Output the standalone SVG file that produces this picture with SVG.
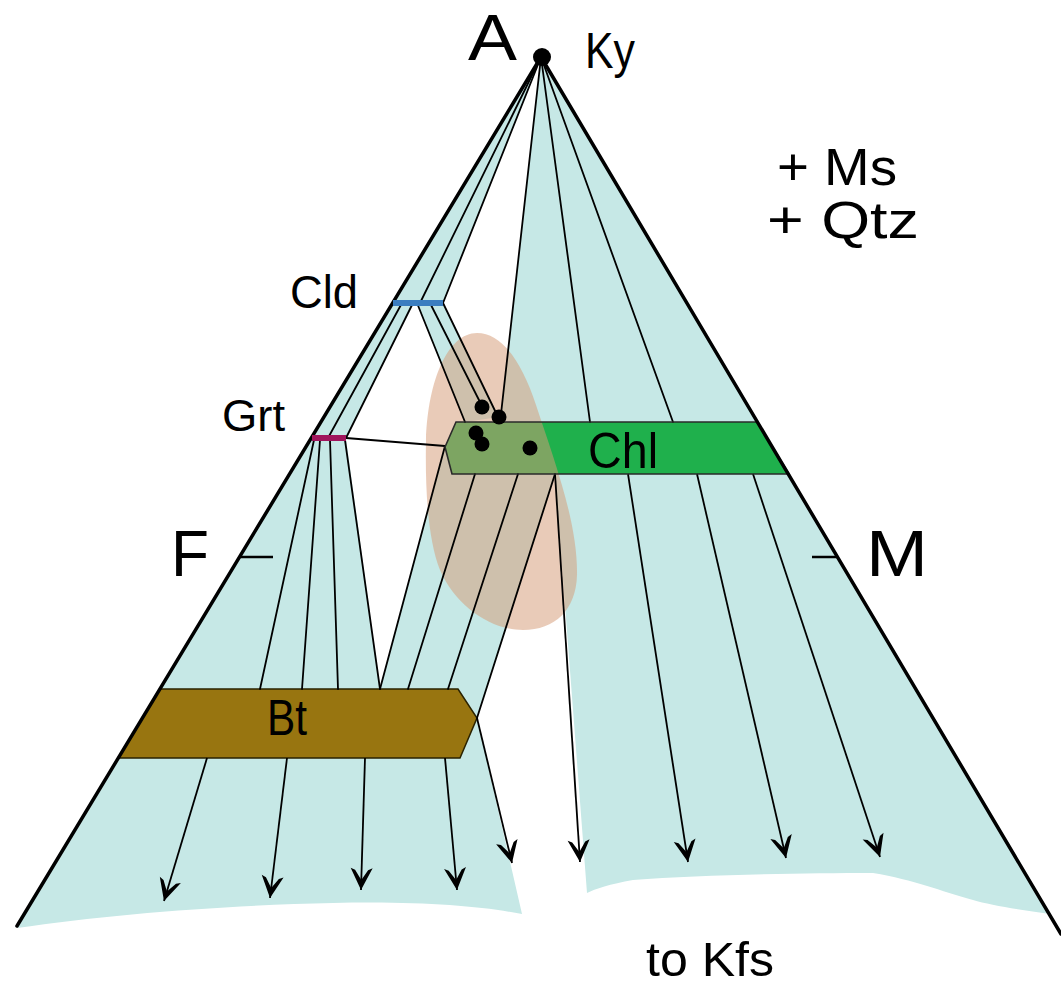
<svg xmlns="http://www.w3.org/2000/svg" width="1061" height="987" viewBox="0 0 1061 987">
<defs>
<style>
.fld{fill:#c6e8e6;stroke:none}
.tl{stroke:#000;stroke-width:1.8;fill:none;stroke-linecap:round}
.ar{stroke:#000;stroke-width:1.8;fill:none;marker-end:url(#ah)}
.edge{stroke:#000;stroke-width:3.5;fill:none;stroke-linecap:round}
.lbl{font-family:"Liberation Sans",Arial,sans-serif;fill:#000}
.dot{fill:#000}
</style>
<marker id="ah" viewBox="-24 -13 26 26" refX="0" refY="0" markerWidth="26" markerHeight="26" orient="auto" markerUnits="userSpaceOnUse">
<path d="M0,0 L-22,-11 L-20,-6.5 L-10,0 L-20,6.5 L-22,11 Z" fill="#000"/>
</marker>
</defs>
<rect width="1061" height="987" fill="#fff"/>

<g id="fields">
<polygon class="fld" points="541,57 393,303 443,303"/>
<polygon class="fld" points="393,303 413,303 346,438 312,438"/>
<polygon class="fld" points="312,438 346,438 380,689 160,689"/>
<polygon class="fld" points="417,303 443,303 499,417 465,422"/>
<polygon class="fld" points="541,57 501,414 500,422 757,422"/>
<polygon class="fld" points="445,446 452,474 555,474 477,718 458,689 380,689"/>
<path class="fld" d="M120,758 L460,758 L477,718 L522,914 C480,906 420,901 333,903 C230,905 110,914 17,928 Z"/>
<path class="fld" d="M555,474 L789,474 L1050,914 C1020,910 990,905 973,900 C940,891 915,880 873,873 C800,873 700,875 633,880 C610,884 595,889 587,893 Z"/>
</g>

<g id="chl">
<polygon points="456,422 757,422 789,474 452,474 445,447" fill="#1fb04c"/>
</g>

<g id="blob">
<path d="M477,333 C502,333 522,362 536,405 C556,465 578,525 577,575 C576,610 555,630 523,630 C490,630 455,605 440,570 C428,540 425,490 426,440 C428,380 448,333 477,333 Z" fill="#d59b76" fill-opacity="0.52"/>
</g>

<g id="bt">
<polygon points="160,689 458,689 477,718 460,758 118,758" fill="#987510" stroke="#2a2200" stroke-width="1.5"/>
<text class="lbl" x="267" y="735" font-size="50" textLength="40" lengthAdjust="spacingAndGlyphs">Bt</text>
</g>

<g id="connectors">
<line class="tl" x1="541" y1="57" x2="420" y2="303"/>
<line class="tl" x1="541" y1="57" x2="443" y2="303"/>
<line class="tl" x1="541" y1="57" x2="501" y2="414"/>
<line class="tl" x1="541" y1="57" x2="590" y2="422"/>
<line class="tl" x1="541" y1="57" x2="673" y2="422"/>
<line class="tl" x1="402" y1="303" x2="328" y2="438"/>
<line class="tl" x1="413" y1="303" x2="346" y2="438"/>
<line class="tl" x1="417" y1="303" x2="465" y2="422"/>
<line class="tl" x1="430" y1="303" x2="482" y2="406"/>
<line class="tl" x1="443" y1="303" x2="498" y2="417"/>
<line class="tl" x1="314" y1="440" x2="260" y2="689"/>
<line class="tl" x1="320" y1="440" x2="302" y2="689"/>
<line class="tl" x1="330" y1="440" x2="338" y2="689"/>
<line class="tl" x1="345" y1="440" x2="380" y2="689"/>
<line class="tl" x1="346" y1="438" x2="445" y2="446"/>
<line class="tl" x1="445" y1="446" x2="380" y2="689"/>
<line class="tl" x1="475" y1="474" x2="408" y2="689"/>
<line class="tl" x1="518" y1="474" x2="448" y2="689"/>
<line class="tl" x1="555" y1="474" x2="477" y2="718"/>
<line class="ar" x1="555" y1="474" x2="580" y2="862"/>
<line class="ar" x1="628" y1="474" x2="688" y2="862"/>
<line class="ar" x1="697" y1="474" x2="786" y2="858"/>
<line class="ar" x1="753" y1="474" x2="880" y2="857"/>
<line class="ar" x1="207" y1="758" x2="164" y2="901"/>
<line class="ar" x1="287" y1="758" x2="270" y2="898"/>
<line class="ar" x1="365" y1="758" x2="361" y2="890"/>
<line class="ar" x1="445" y1="758" x2="457" y2="890"/>
<line class="ar" x1="477" y1="718" x2="512" y2="863"/>
</g>

<g id="chl-outline">
<polygon points="456,422 757,422 789,474 452,474 445,447" fill="none" stroke="#2a2a2a" stroke-width="1.6"/>
<text class="lbl" x="588" y="468" font-size="50" textLength="70" lengthAdjust="spacingAndGlyphs">Chl</text>
</g>

<g id="triangle">
<line class="edge" x1="541" y1="57" x2="17" y2="926"/>
<line class="edge" x1="541" y1="57" x2="1061" y2="934"/>
<line stroke="#000" stroke-width="2.5" x1="239" y1="557" x2="273" y2="557"/>
<line stroke="#000" stroke-width="2.5" x1="812" y1="557" x2="837" y2="557"/>
</g>

<g id="cld">
<line x1="393" y1="303" x2="443" y2="303" stroke="#3b7dc0" stroke-width="6"/>
<text class="lbl" x="290" y="308" font-size="46" textLength="68" lengthAdjust="spacingAndGlyphs">Cld</text>
</g>

<g id="grt">
<line x1="312" y1="438" x2="346" y2="438" stroke="#a0155c" stroke-width="6"/>
<text class="lbl" x="222" y="431" font-size="44" textLength="63" lengthAdjust="spacingAndGlyphs">Grt</text>
</g>

<g id="samples">
<circle class="dot" cx="482" cy="407" r="7.5"/>
<circle class="dot" cx="499" cy="417" r="7.5"/>
<circle class="dot" cx="476" cy="433" r="7.5"/>
<circle class="dot" cx="482" cy="444" r="7.5"/>
<circle class="dot" cx="530" cy="448" r="7.5"/>
</g>

<g id="ky">
<circle class="dot" cx="542" cy="57" r="9"/>
<text class="lbl" x="585" y="68" font-size="50" textLength="50" lengthAdjust="spacingAndGlyphs">Ky</text>
</g>

<g id="labels">
<text class="lbl" x="468" y="60" font-size="64" textLength="49" lengthAdjust="spacingAndGlyphs">A</text>
<text class="lbl" x="171" y="576" font-size="64" textLength="38" lengthAdjust="spacingAndGlyphs">F</text>
<text class="lbl" x="866" y="576" font-size="64" textLength="62" lengthAdjust="spacingAndGlyphs">M</text>
<text class="lbl" x="777" y="185" font-size="52" textLength="120" lengthAdjust="spacingAndGlyphs">+ Ms</text>
<text class="lbl" x="767" y="238" font-size="52" textLength="152" lengthAdjust="spacingAndGlyphs">+ Qtz</text>
<text class="lbl" x="646" y="976" font-size="48" textLength="128" lengthAdjust="spacingAndGlyphs">to Kfs</text>
</g>
</svg>
